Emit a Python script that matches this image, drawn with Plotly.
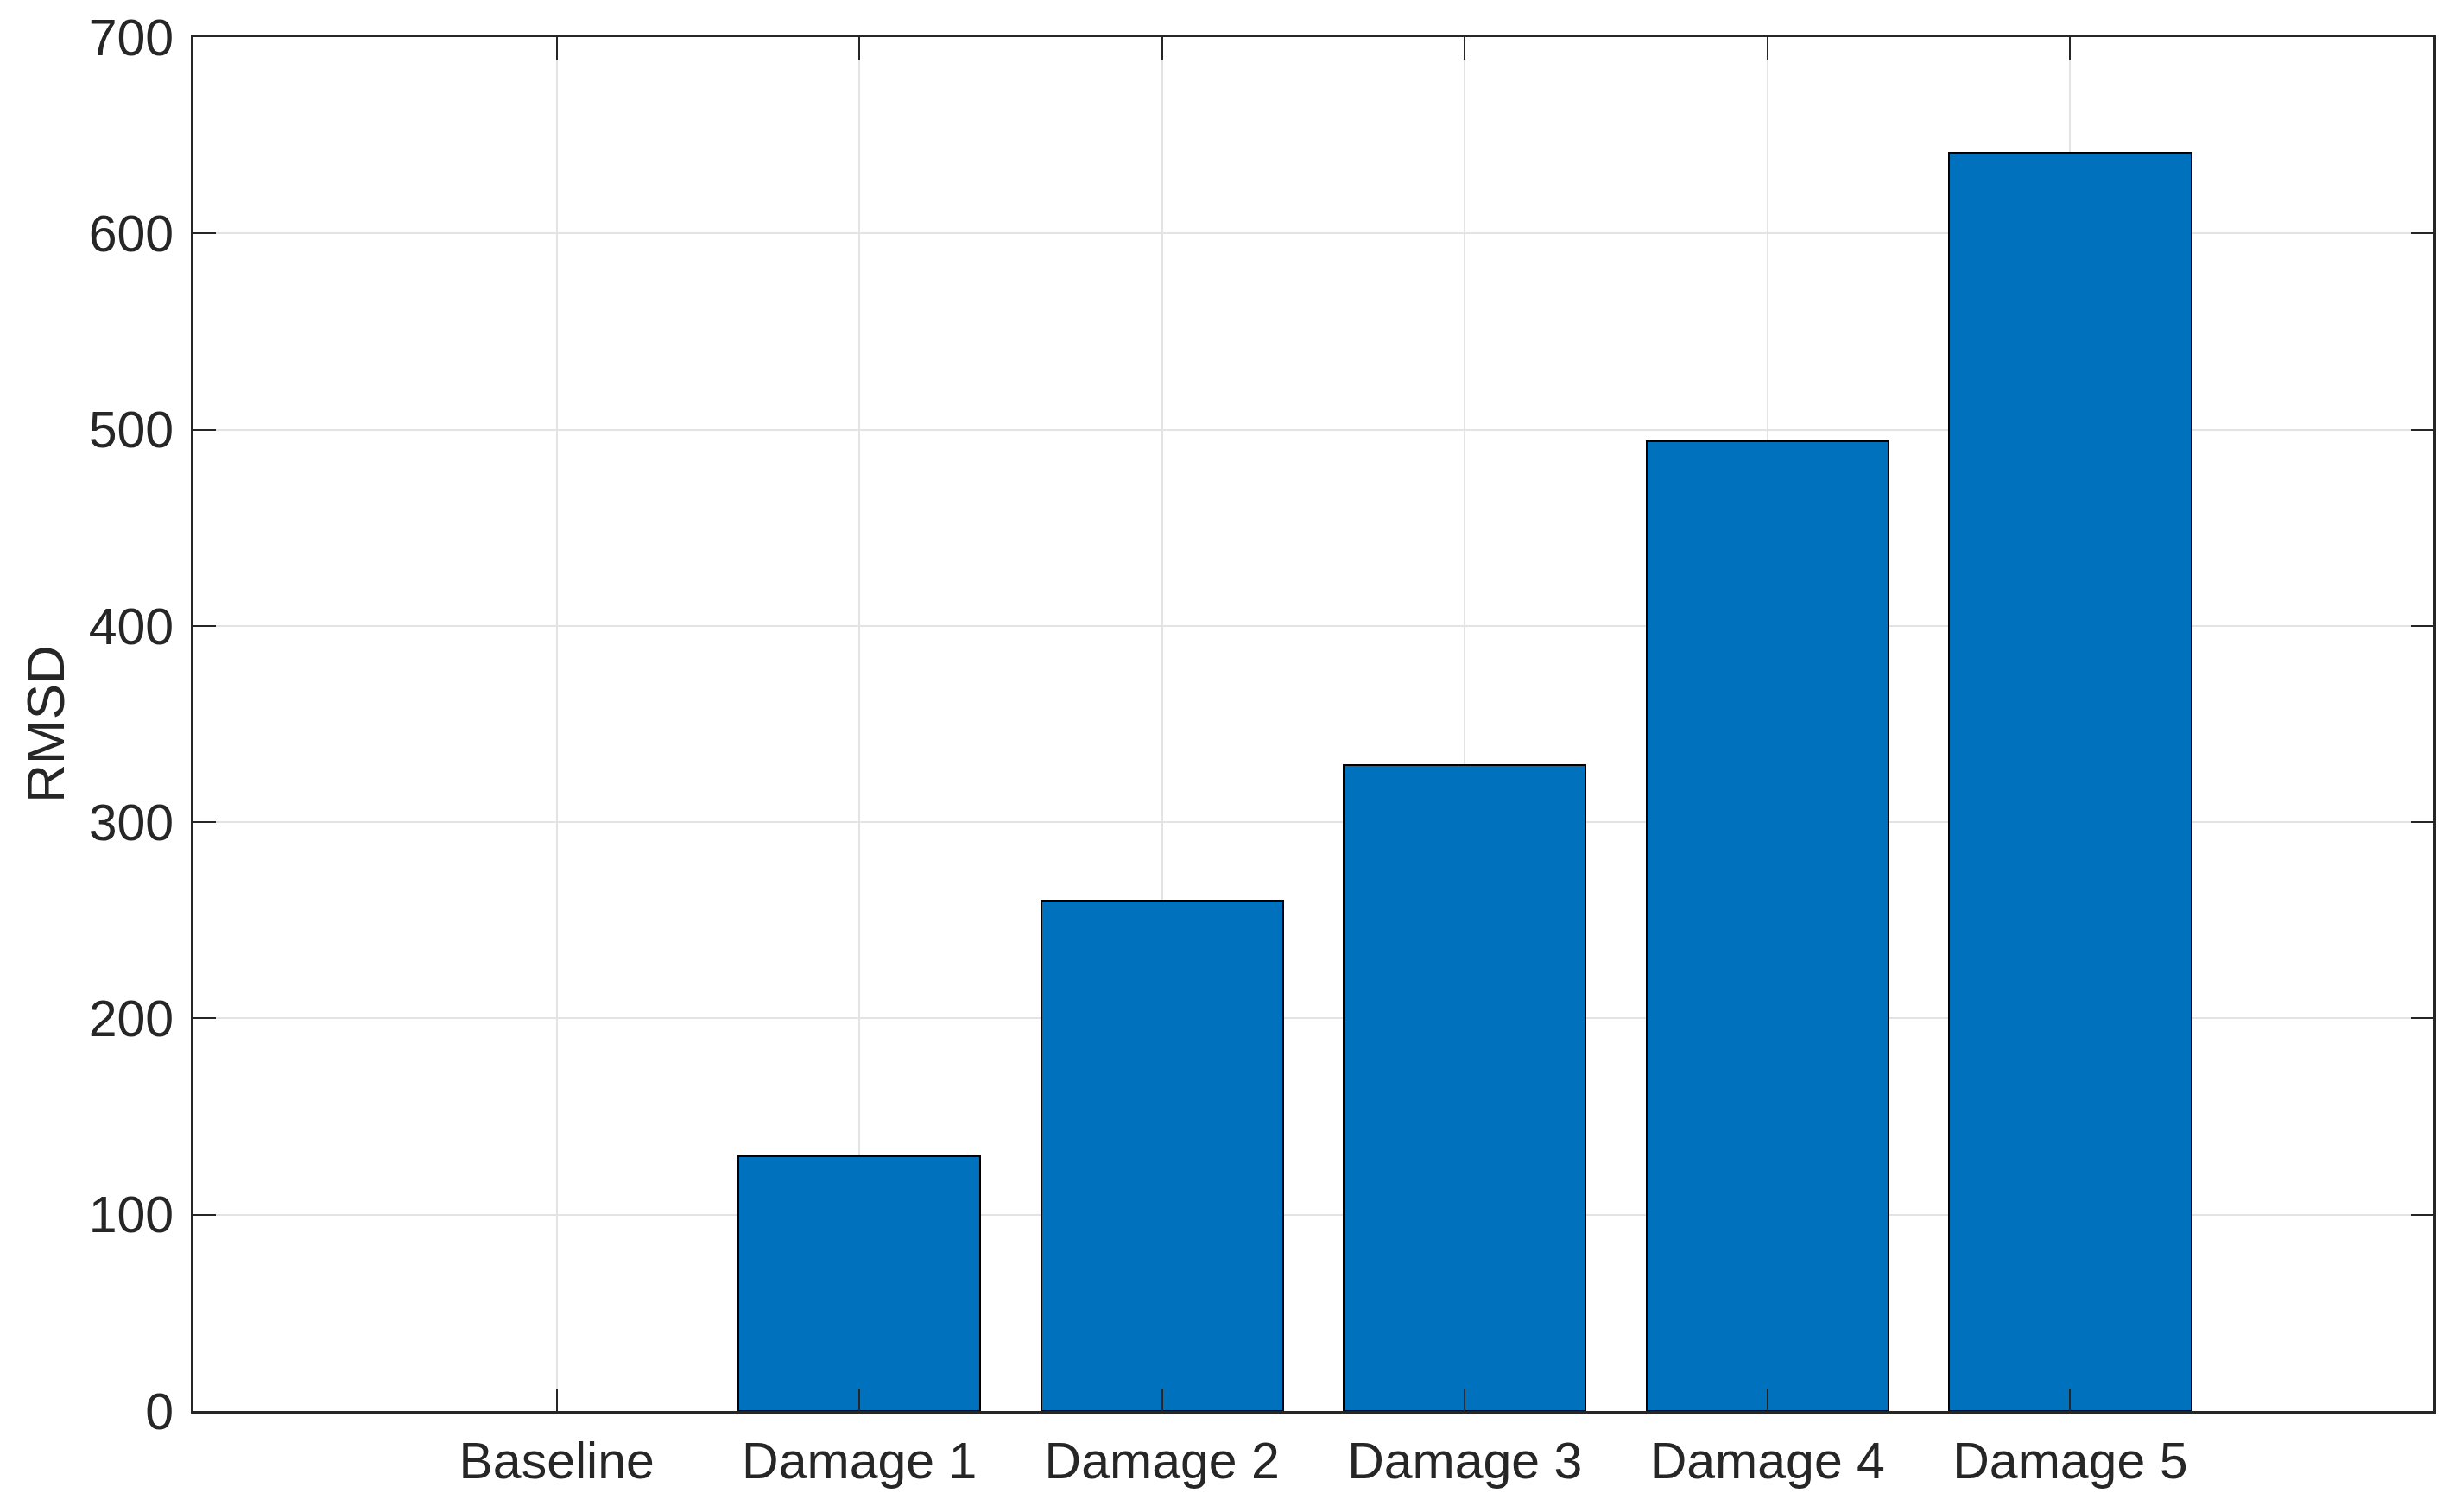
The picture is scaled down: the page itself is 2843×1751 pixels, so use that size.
import plotly.graph_objects as go

categories = ["Baseline", "Damage 1", "Damage 2", "Damage 3", "Damage 4", "Damage 5"]
rmsd = [0, 130, 260, 329, 494, 641]
y_ticks = [0, 100, 200, 300, 400, 500, 600, 700]

AX = "#262626"
GRID = "#e3e3e3"
FONT = "Liberation Sans, Arial, Helvetica, sans-serif"

fig = go.Figure()
fig.add_trace(go.Bar(
    x=list(range(len(categories))),
    y=rmsd,
    width=0.8,
    marker=dict(color="#0072BD",
                line=dict(color="#000000", width=[0 if v == 0 else 2 for v in rmsd])),
))

fig.update_layout(
    width=2843, height=1751,
    margin=dict(l=216, r=33, t=35, b=125, autoexpand=False),
    paper_bgcolor="white", plot_bgcolor="white",
    font=dict(family=FONT, size=59, color=AX),
    showlegend=False,
    bargap=0,
)
fig.update_xaxes(
    range=[-1.2, 6.2],
    tickmode="array",
    tickvals=list(range(len(categories))),
    ticktext=categories,
    showgrid=True, gridcolor=GRID, gridwidth=2,
    showline=True, linecolor=AX, linewidth=3, mirror="allticks",
    ticks="inside", ticklen=26, tickwidth=2, tickcolor=AX,
    zeroline=False, automargin=False,
    ticklabelstandoff=4,
    tickfont=dict(size=59, color=AX),
)
fig.update_yaxes(
    range=[0, 700],
    tickmode="array",
    tickvals=y_ticks,
    ticktext=[str(v) for v in y_ticks],
    showgrid=True, gridcolor=GRID, gridwidth=2,
    showline=True, linecolor=AX, linewidth=3, mirror="allticks",
    ticks="inside", ticklen=26, tickwidth=2, tickcolor=AX,
    zeroline=False, automargin=False,
    ticklabelstandoff=8,
    tickfont=dict(size=59, color=AX),
    title=dict(text="RMSD", font=dict(size=62, color=AX), standoff=9),
)

fig.write_html("out.html")
